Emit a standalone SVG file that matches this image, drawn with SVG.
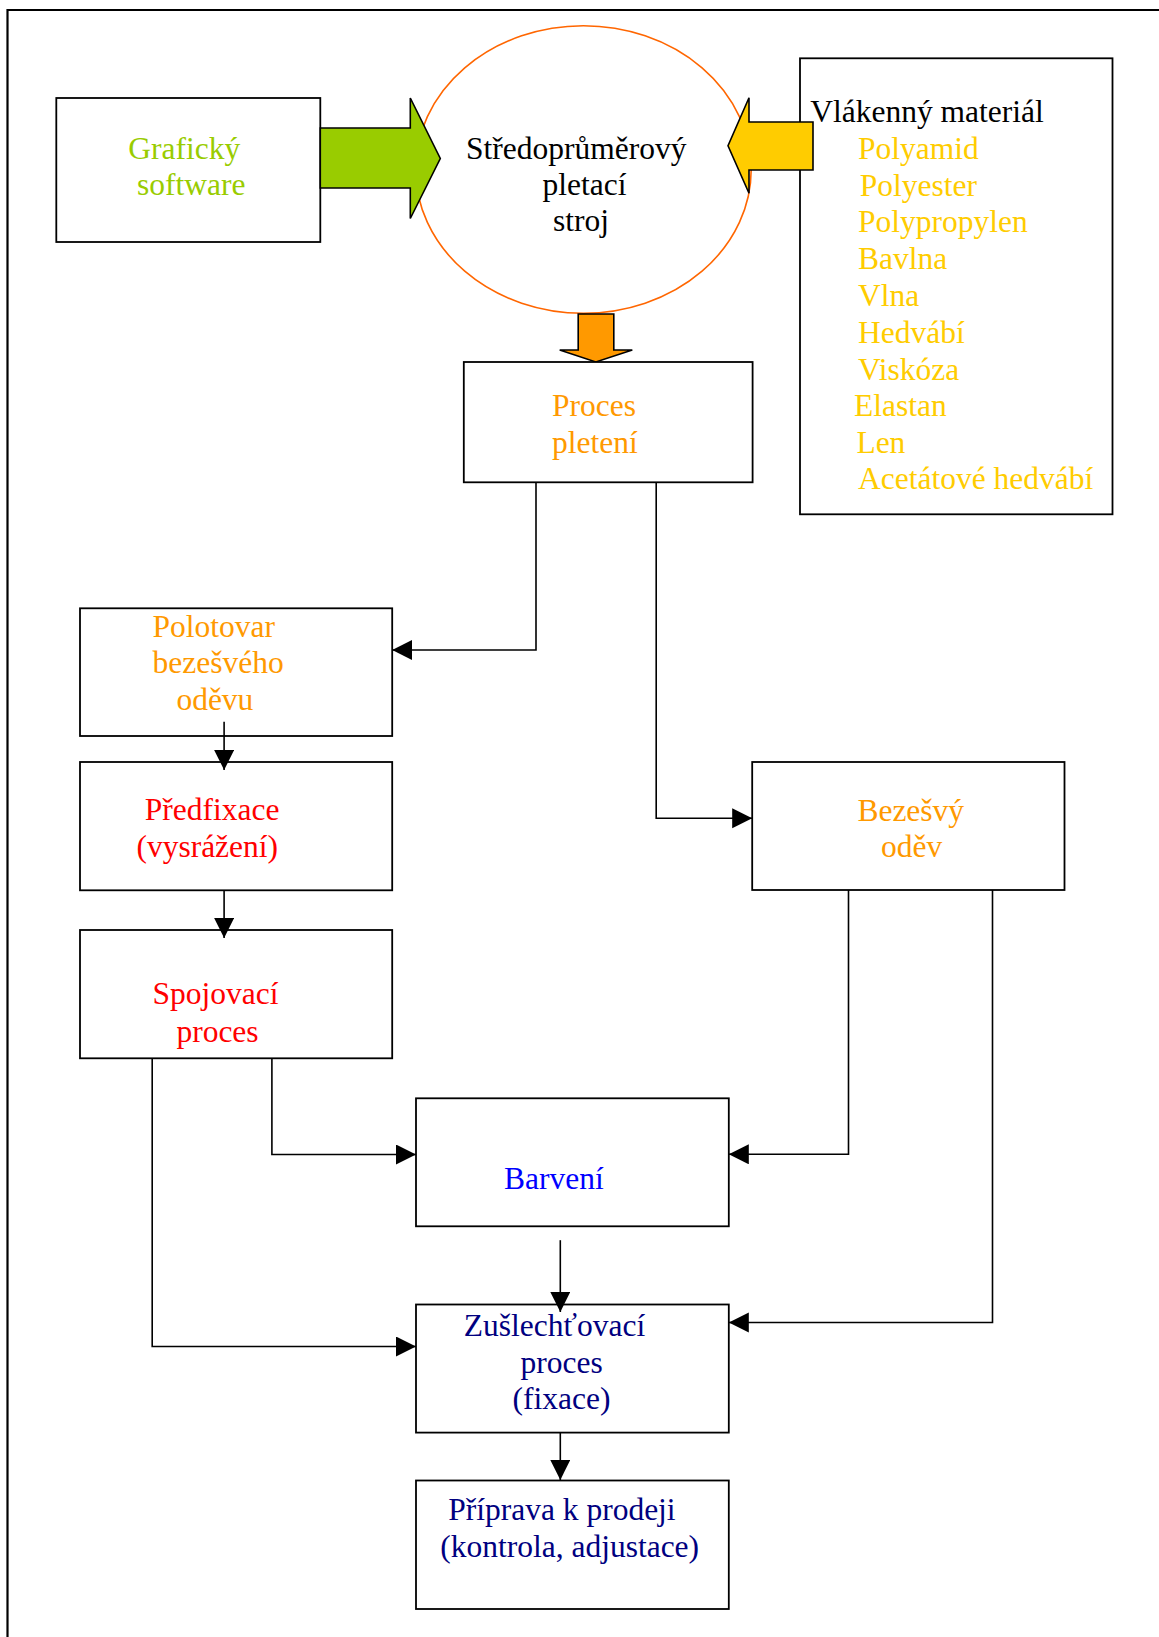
<svg xmlns="http://www.w3.org/2000/svg" width="1159" height="1637" viewBox="0 0 1159 1637">
<style>
  .box { fill: #ffffff; stroke: #000000; stroke-width: 1.8; }
  .t { font-family: "Liberation Serif", "Times New Roman", serif; font-size: 31.5px; }
  .black { fill: #000000; }
  .green { fill: #99CC00; }
  .yellow { fill: #FFCC00; }
  .orange { fill: #FF9900; }
  .red { fill: #FF0000; }
  .blue { fill: #0000FF; }
  .navy { fill: #000080; }
  .conn { fill: none; stroke: #000000; stroke-width: 1.6; }
  .block { stroke: #000000; stroke-width: 1.6; stroke-linejoin: miter; }
</style>
<defs>
  <marker id="ah" markerUnits="userSpaceOnUse" markerWidth="21" markerHeight="21" refX="20" refY="10" orient="auto">
    <path d="M0,0 L20,10 L0,20 z" fill="#000000"/>
  </marker>
</defs>
<rect x="0" y="0" width="1159" height="1637" fill="#ffffff"/>
<path d="M1165,10 H7.5 V1645" fill="none" stroke="#000000" stroke-width="2.2"/>

<g id="stroj">
  <ellipse cx="583.4" cy="169.5" rx="167.8" ry="143.8" fill="#ffffff" stroke="#FF6600" stroke-width="1.6"/>
  <text class="t black" x="466" y="159.3">Středoprůměrový</text>
  <text class="t black" x="542.5" y="195">pletací</text>
  <text class="t black" x="553" y="231">stroj</text>
</g>

<g id="graficky">
  <rect class="box" x="56.3" y="98" width="264" height="144"/>
  <text class="t green" x="128.3" y="159.3">Grafický</text>
  <text class="t green" x="137" y="195">software</text>
</g>

<g id="arrow-green">
  <polygon class="block" fill="#99CC00" points="320.3,128 410.3,128 410.3,98 440.3,158.5 410.3,218.5 410.3,188 320.3,188"/>
</g>

<g id="material">
  <rect class="box" x="800" y="58.3" width="312.5" height="456"/>
  <text class="t black" x="810.2" y="121.7">Vlákenný materiál</text>
  <text class="t yellow" x="858" y="159.3">Polyamid</text>
  <text class="t yellow" x="859.8" y="196">Polyester</text>
  <text class="t yellow" x="858" y="231.7">Polypropylen</text>
  <text class="t yellow" x="858" y="268.7">Bavlna</text>
  <text class="t yellow" x="858" y="305.7">Vlna</text>
  <text class="t yellow" x="858" y="342.7">Hedvábí</text>
  <text class="t yellow" x="858" y="380">Viskóza</text>
  <text class="t yellow" x="854" y="416">Elastan</text>
  <text class="t yellow" x="856.4" y="452.7">Len</text>
  <text class="t yellow" x="858" y="489.3">Acetátové hedvábí</text>
</g>

<g id="arrow-yellow">
  <polygon class="block" fill="#FFCC00" points="813,122 749,122 749,97.7 728,145.7 749,193.3 749,170 813,170"/>
</g>

<g id="arrow-orange">
  <polygon class="block" fill="#FF9900" points="578.2,314 613.8,314 613.8,350 632.3,350 595.8,362 559.7,350 578.2,350"/>
</g>

<g id="proces-pleteni">
  <rect class="box" x="463.8" y="362" width="288.8" height="120.3"/>
  <text class="t orange" x="552" y="415.7">Proces</text>
  <text class="t orange" x="552" y="452.7">pletení</text>
</g>

<g id="polotovar">
  <rect class="box" x="80" y="608.3" width="312.2" height="127.7"/>
  <text class="t orange" x="152.5" y="636.7">Polotovar</text>
  <text class="t orange" x="152.5" y="673.3">bezešvého</text>
  <text class="t orange" x="176.4" y="710">oděvu</text>
</g>

<g id="predfixace">
  <rect class="box" x="80" y="762" width="312.2" height="128.3"/>
  <text class="t red" x="144.7" y="820">Předfixace</text>
  <text class="t red" x="136.4" y="857.3">(vysrážení)</text>
</g>

<g id="spojovaci">
  <rect class="box" x="80" y="930" width="312.2" height="128.3"/>
  <text class="t red" x="152.5" y="1004">Spojovací</text>
  <text class="t red" x="176.4" y="1041.7">proces</text>
</g>

<g id="bezesvy">
  <rect class="box" x="752.2" y="762" width="312.3" height="128"/>
  <text class="t orange" x="857.4" y="821.4">Bezešvý</text>
  <text class="t orange" x="881" y="857.4">oděv</text>
</g>

<g id="barveni">
  <rect class="box" x="416" y="1098.3" width="312.8" height="128"/>
  <text class="t blue" x="504" y="1188.5">Barvení</text>
</g>

<g id="zuslechtovaci">
  <rect class="box" x="416" y="1304.5" width="312.8" height="128.1"/>
  <text class="t navy" x="463.8" y="1336.4">Zušlechťovací</text>
  <text class="t navy" x="520.5" y="1372.7">proces</text>
  <text class="t navy" x="512.5" y="1409.4">(fixace)</text>
</g>

<g id="priprava">
  <rect class="box" x="416" y="1480.5" width="312.8" height="128.5"/>
  <text class="t navy" x="448.2" y="1519.9">Příprava k prodeji</text>
  <text class="t navy" x="440.2" y="1557.3">(kontrola, adjustace)</text>
</g>

<g id="connectors">
  <path class="conn" d="M536,482.3 V650 H392.2" marker-end="url(#ah)"/>
  <path class="conn" d="M656.2,482.3 V818.3 H752.2" marker-end="url(#ah)"/>
  <path class="conn" d="M224.1,721.7 V770" marker-end="url(#ah)"/>
  <path class="conn" d="M224.1,890.3 V938" marker-end="url(#ah)"/>
  <path class="conn" d="M271.9,1058.3 V1154.5 H416" marker-end="url(#ah)"/>
  <path class="conn" d="M152.2,1058.3 V1346.5 H416" marker-end="url(#ah)"/>
  <path class="conn" d="M848.5,890 V1154.3 H728.8" marker-end="url(#ah)"/>
  <path class="conn" d="M992.5,890 V1322.5 H728.8" marker-end="url(#ah)"/>
  <path class="conn" d="M560.3,1240.2 V1312" marker-end="url(#ah)"/>
  <path class="conn" d="M560.3,1432.6 V1480" marker-end="url(#ah)"/>
</g>
</svg>
